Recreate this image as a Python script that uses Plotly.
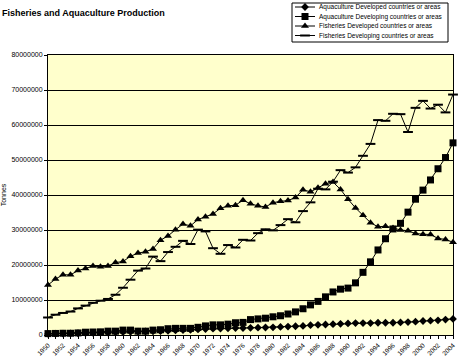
import plotly.graph_objects as go

years = list(range(1950, 2005))

aqua_developed = [0.3, 0.35, 0.4, 0.45, 0.5, 0.55, 0.6, 0.65, 0.7, 0.8,
                  0.85, 0.9, 0.95, 1.0, 1.05, 1.1, 1.2, 1.3, 1.4, 1.5,
                  1.6, 1.7, 1.8, 1.85, 1.9, 2.0, 2.0, 2.05, 2.1, 2.15,
                  2.2, 2.3, 2.4, 2.5, 2.6, 2.8, 2.9, 3.0, 3.1, 3.2,
                  3.3, 3.4, 3.4, 3.4, 3.5, 3.5, 3.5, 3.6, 3.7, 3.8,
                  4.0, 4.1, 4.2, 4.4, 4.6]

aqua_developing = [0.4, 0.45, 0.5, 0.5, 0.6, 0.8, 0.85, 0.9, 1.1, 1.1,
                   1.4, 1.4, 1.1, 1.1, 1.4, 1.5, 1.8, 1.9, 1.9, 1.9,
                   2.2, 2.6, 2.9, 2.9, 3.1, 3.5, 3.6, 4.4, 4.6, 4.8,
                   5.2, 5.5, 6.0, 6.6, 7.5, 8.6, 9.6, 10.9, 12.3, 13.1,
                   13.4, 14.9, 17.9, 20.9, 24.3, 27.5, 30.3, 31.9, 35.1, 38.8,
                   41.4, 44.3, 47.5, 50.7, 54.9]

fish_developed = [14.3, 16.0, 17.2, 17.2, 18.4, 19.0, 19.7, 19.5, 19.7, 20.7,
                  21.0, 22.5, 23.4, 23.8, 24.6, 27.1, 28.3, 30.1, 31.7, 31.2,
                  33.0, 33.8, 34.6, 36.2, 36.9, 37.1, 38.5, 37.5, 36.9, 36.6,
                  37.8, 38.2, 38.4, 39.3, 41.5, 40.9, 42.1, 43.2, 43.7, 41.6,
                  38.8, 36.3, 34.2, 32.1, 30.9, 31.1, 30.6, 30.0, 29.8, 29.0,
                  28.8, 28.7, 27.6, 27.3, 26.5]

fish_developing = [5.0, 5.8, 6.3, 6.7, 7.6, 8.4, 9.2, 9.8, 10.3, 11.5,
                   13.5, 15.8, 18.4, 19.0, 22.4, 21.1, 23.7, 25.2, 26.9, 26.0,
                   30.1, 29.6, 24.8, 23.2, 25.7, 25.0, 27.2, 27.0, 29.1, 30.2,
                   29.9, 31.4, 33.1, 32.2, 35.4, 37.9, 41.8, 41.6, 43.8, 47.1,
                   46.4, 47.9, 51.2, 54.6, 61.4, 61.2, 63.2, 63.1, 58.0, 64.9,
                   66.9, 64.7, 65.8, 63.6, 68.7]

series_names = ["Aquaculture Developed countries or areas",
                "Aquaculture Developing countries or areas",
                "Fisheries Developed countries or areas",
                "Fisheries Developing countries or areas"]

y_ticks = list(range(0, 80000001, 10000000))
x_tick_text = [str(y) if y % 2 == 0 else "" for y in years]

FONT = "Liberation Sans, Arial, sans-serif"
marker_styles = [
    dict(symbol="diamond", size=6, color="black"),
    dict(symbol="square", size=7, color="black"),
    dict(symbol="triangle-up", size=7, color="black"),
    dict(symbol="line-ew", size=7, color="black", line=dict(width=2, color="black")),
]

fig = go.Figure()
all_series = [aqua_developed, aqua_developing, fish_developed, fish_developing]
for name, vals, mk in zip(series_names, all_series, marker_styles):
    fig.add_trace(go.Scatter(
        x=years, y=[v * 1e6 for v in vals], name=name, mode="lines+markers",
        line=dict(color="black", width=1), marker=mk, cliponaxis=False,
        showlegend=False))

# Manual legend (overlay axes placed in the top area)
leg_y = [7, 16.5, 26, 35.5]
for name, yy, mk in zip(series_names, leg_y, marker_styles):
    fig.add_trace(go.Scatter(
        x=[295, 315], y=[yy, yy], mode="lines",
        line=dict(color="black", width=1),
        xaxis="x2", yaxis="y2", showlegend=False, hoverinfo="skip"))
    fig.add_trace(go.Scatter(
        x=[305], y=[yy], mode="markers", marker=mk,
        xaxis="x2", yaxis="y2", showlegend=False, hoverinfo="skip"))
    fig.add_annotation(x=317, y=yy, xref="x2", yref="y2", text=name,
                       showarrow=False, xanchor="left", yanchor="middle",
                       font=dict(family=FONT, size=6.5, color="black"))

fig.add_shape(type="rect", xref="paper", yref="paper",
              x0=(292 - 48) / 405, x1=(448 - 48) / 405,
              y0=(335 - 42) / 332, y1=1.0,
              line=dict(color="black", width=1), fillcolor="white", layer="below")

fig.update_layout(
    width=459, height=361,
    margin=dict(l=48, r=6, t=3, b=26, pad=0),
    paper_bgcolor="white",
    plot_bgcolor="#FFFFCC",
    font=dict(family=FONT, color="black"),
    title=dict(text="<b>Fisheries and Aquaculture Production</b>",
               x=2 / 459, xref="container", xanchor="left",
               y=1 - 13 / 361, yref="container", yanchor="middle",
               font=dict(family=FONT, size=9, color="black")),
    xaxis=dict(range=[1950, 2004], tickvals=years, ticktext=x_tick_text,
               tickangle=-45, ticks="outside", ticklen=3, tickcolor="black",
               tickfont=dict(size=6.5, family=FONT), showgrid=False,
               showline=True, linecolor="black", linewidth=1, mirror=True,
               zeroline=False, anchor="y", automargin=False),
    yaxis=dict(range=[0, 80000000], tickvals=y_ticks, tickformat="d",
               domain=[0, 280 / 332], ticks="outside", ticklen=3,
               tickcolor="black", tickfont=dict(size=7, family=FONT),
               showgrid=True, gridcolor="black", gridwidth=1,
               showline=True, linecolor="black", linewidth=1, mirror=True,
               zeroline=False, automargin=False,
               title=dict(text="Tonnes", font=dict(size=7, family=FONT), standoff=4)),
    xaxis2=dict(domain=[(292 - 48) / 405, (448 - 48) / 405], range=[292, 448],
                visible=False, anchor="y2", fixedrange=True),
    yaxis2=dict(domain=[(335 - 42) / 332, 1.0], range=[42, 3],
                visible=False, anchor="x2", fixedrange=True),
)

fig.write_html("out.html", config={"displayModeBar": False},
               post_script="document.body.style.margin='0';document.body.style.padding='0';")
